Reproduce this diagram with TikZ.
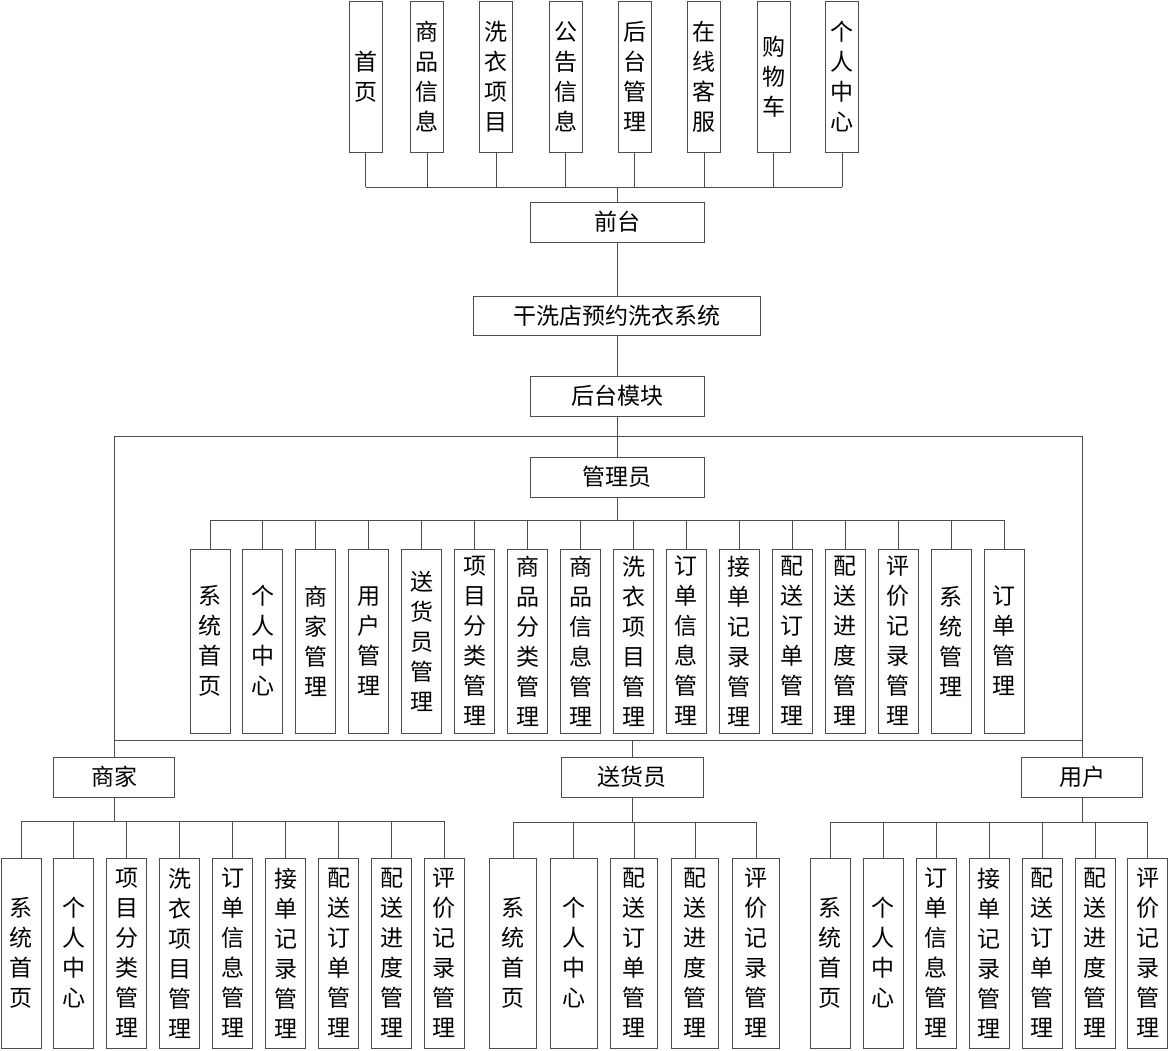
\documentclass[tikz,border=0pt]{standalone}
\usepackage{fontspec}
\setmainfont{Noto Sans CJK SC}
\tikzset{
  box/.style={draw=black!70, line width=0.9pt, inner sep=0pt, align=center,
    font=\fontsize{23}{30}\selectfont},
  wbox/.style={box, minimum width=174pt, minimum height=40pt},
  tbox/.style={box, minimum width=33pt, minimum height=151pt},
  abox/.style={box, minimum width=40pt, minimum height=184pt},
  lbox/.style={box, minimum width=40pt, minimum height=190pt},
  link/.style={draw=black!70, line width=0.9pt}
}
\begin{document}
\begin{tikzpicture}[x=1pt,y=-1pt]
	\useasboundingbox (0,0) rectangle (1170,1050);
	% front end
	\node[tbox] (t1) at (365.5,76.5) {首\\页};
	\node[tbox] (t2) at (427,76.5) {商\\品\\信\\息};
	\node[tbox] (t3) at (496,76.5) {洗\\衣\\项\\目};
	\node[tbox] (t4) at (565.5,76.5) {公\\告\\信\\息};
	\node[tbox] (t5) at (634.5,76.5) {后\\台\\管\\理};
	\node[tbox] (t6) at (704,76.5) {在\\线\\客\\服};
	\node[tbox] (t7) at (773.5,76.5) {购\\物\\车};
	\node[tbox] (t8) at (842,76.5) {个\\人\\中\\心};
	\node[wbox] (front) at (617,222) {前台};
	\node[wbox, minimum width=287pt, minimum height=39pt] (sys) at (617,315.5) {干洗店预约洗衣系统};
	\node[wbox] (back) at (617,396) {后台模块};
	\node[wbox] (admin) at (617,477) {管理员};
	% admin modules
	\node[abox] (a1) at (210,641) {系\\统\\首\\页};
	\node[abox] (a2) at (262.9,641) {个\\人\\中\\心};
	\node[abox] (a3) at (315.9,641) {商\\家\\管\\理};
	\node[abox] (a4) at (368.8,641) {用\\户\\管\\理};
	\node[abox] (a5) at (421.7,641) {送\\货\\员\\管\\理};
	\node[abox] (a6) at (474.7,641) {项\\目\\分\\类\\管\\理};
	\node[abox] (a7) at (527.6,641) {商\\品\\分\\类\\管\\理};
	\node[abox] (a8) at (580.5,641) {商\\品\\信\\息\\管\\理};
	\node[abox] (a9) at (633.5,641) {洗\\衣\\项\\目\\管\\理};
	\node[abox] (a10) at (686.4,641) {订\\单\\信\\息\\管\\理};
	\node[abox] (a11) at (739.3,641) {接\\单\\记\\录\\管\\理};
	\node[abox] (a12) at (792.3,641) {配\\送\\订\\单\\管\\理};
	\node[abox] (a13) at (845.2,641) {配\\送\\进\\度\\管\\理};
	\node[abox] (a14) at (898.1,641) {评\\价\\记\\录\\管\\理};
	\node[abox] (a15) at (951.1,641) {系\\统\\管\\理};
	\node[abox] (a16) at (1004,641) {订\\单\\管\\理};
	% roles
	\node[wbox, minimum width=121pt] (shop) at (114,777) {商家};
	\node[wbox, minimum width=142pt] (courier) at (632,777) {送货员};
	\node[wbox, minimum width=121pt] (user) at (1082,777) {用户};
	% shop modules
	\node[lbox] (s1) at (21,953) {系\\统\\首\\页};
	\node[lbox] (s2) at (73.9,953) {个\\人\\中\\心};
	\node[lbox] (s3) at (126.8,953) {项\\目\\分\\类\\管\\理};
	\node[lbox] (s4) at (179.8,953) {洗\\衣\\项\\目\\管\\理};
	\node[lbox] (s5) at (232.7,953) {订\\单\\信\\息\\管\\理};
	\node[lbox] (s6) at (285.6,953) {接\\单\\记\\录\\管\\理};
	\node[lbox] (s7) at (338.6,953) {配\\送\\订\\单\\管\\理};
	\node[lbox] (s8) at (391.5,953) {配\\送\\进\\度\\管\\理};
	\node[lbox] (s9) at (444.4,953) {评\\价\\记\\录\\管\\理};
	% courier modules
	\node[lbox, minimum width=47pt] (d1) at (513,953) {系\\统\\首\\页};
	\node[lbox, minimum width=47pt] (d2) at (573.7,953) {个\\人\\中\\心};
	\node[lbox, minimum width=47pt] (d3) at (634.3,953) {配\\送\\订\\单\\管\\理};
	\node[lbox, minimum width=47pt] (d4) at (695.3,953) {配\\送\\进\\度\\管\\理};
	\node[lbox, minimum width=47pt] (d5) at (756,953) {评\\价\\记\\录\\管\\理};
	% user modules
	\node[lbox] (u1) at (830,953) {系\\统\\首\\页};
	\node[lbox] (u2) at (883,953) {个\\人\\中\\心};
	\node[lbox] (u3) at (936,953) {订\\单\\信\\息\\管\\理};
	\node[lbox] (u4) at (989,953) {接\\单\\记\\录\\管\\理};
	\node[lbox] (u5) at (1042,953) {配\\送\\订\\单\\管\\理};
	\node[lbox] (u6) at (1095,953) {配\\送\\进\\度\\管\\理};
	\node[lbox] (u7) at (1147.5,953) {评\\价\\记\\录\\管\\理};
	% buses
	\coordinate (topbus) at (617,187);
	\coordinate (frame) at (617,436);
	\coordinate (adminbus) at (617,520);
	\coordinate (rolebus) at (632,740);
	\coordinate (shopbus) at (114,821);
	\coordinate (courierbus) at (632,822);
	\coordinate (userbus) at (1082,822);
	% connectors
	\foreach \n in {t1,t2,t3,t4,t5,t6,t7,t8}
		\draw[link] (\n.south) -- (\n.south |- topbus);
	\draw[link] (t1.south |- topbus) -- (t8.south |- topbus);
	\draw[link] (topbus) -- (front.north);
	\draw[link] (front.south) -- (sys.north);
	\draw[link] (sys.south) -- (back.north);
	\draw[link] (back.south) -- (admin.north);
	\draw[link] (shop.north) -- (shop.north |- frame) -- (user.north |- frame) -- (user.north);
	\draw[link] (shop.north |- rolebus) -- (user.north |- rolebus);
	\draw[link] (rolebus) -- (courier.north);
	\draw[link] (admin.south) -- (adminbus);
	\draw[link] (a1.north |- adminbus) -- (a16.north |- adminbus);
	\foreach \n in {a1,a2,a3,a4,a5,a6,a7,a8,a9,a10,a11,a12,a13,a14,a15,a16}
		\draw[link] (\n.north |- adminbus) -- (\n.north);
	\draw[link] (shop.south) -- (shopbus);
	\draw[link] (s1.north |- shopbus) -- (s9.north |- shopbus);
	\foreach \n in {s1,s2,s3,s4,s5,s6,s7,s8,s9}
		\draw[link] (\n.north |- shopbus) -- (\n.north);
	\draw[link] (courier.south) -- (courierbus);
	\draw[link] (d1.north |- courierbus) -- (d5.north |- courierbus);
	\foreach \n in {d1,d2,d3,d4,d5}
		\draw[link] (\n.north |- courierbus) -- (\n.north);
	\draw[link] (user.south) -- (userbus);
	\draw[link] (u1.north |- userbus) -- (u7.north |- userbus);
	\foreach \n in {u1,u2,u3,u4,u5,u6,u7}
		\draw[link] (\n.north |- userbus) -- (\n.north);
\end{tikzpicture}
\end{document}
